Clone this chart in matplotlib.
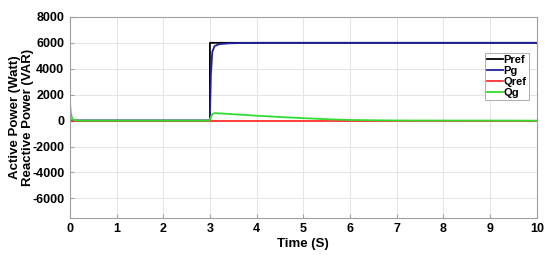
import matplotlib.pyplot as plt

plt.rcParams['font.family'] = ['Liberation Sans', 'DejaVu Sans']
plt.rcParams['font.weight'] = 'bold'
plt.rcParams['axes.unicode_minus'] = False

# values
t_pref = [0, 2.999, 3.0, 10]
pref = [0, 0, 6000, 6000]

t_pg = [0, 2.995, 3.0, 3.02, 3.05, 3.1, 3.2, 3.4, 3.7, 4.0, 5.0, 10]
pg = [0, 0, 200, 3500, 5300, 5750, 5900, 5960, 5990, 6000, 6000, 6000]

t_qref = [0, 10]
qref = [0, 0]

t_qg = [0, 0.02, 0.05, 0.1, 0.2, 2.995, 3.0, 3.05, 3.1, 3.3, 3.6, 4.0, 4.5, 5.0, 5.5, 6.0, 7.0, 10]
qg = [1500, 600, 150, 20, 0, 0, 100, 500, 580, 540, 470, 380, 280, 190, 110, 50, 10, 0]

fig = plt.figure(figsize=(5.5, 2.6), dpi=100)
ax = fig.add_axes([0.127, 0.162, 0.849, 0.773])

ax.plot(t_pref, pref, color='black', lw=1.3, label='Pref')
ax.plot(t_pg, pg, color='#2020a0', lw=1.3, label='Pg')
ax.plot(t_qref, qref, color='#ff3030', lw=1.3, label='Qref')
ax.plot(t_qg, qg, color='#30dd30', lw=1.3, label='Qg')

ax.set_xlim(0, 10)
ax.set_ylim(-7500, 8000)
ax.set_xticks(range(0, 11))
ax.set_yticks(range(-6000, 8001, 2000))
ax.grid(True, color='#e4e4e4', lw=0.7)
for s in ax.spines.values():
    s.set_color('#a0a0a0')
    s.set_linewidth(0.8)
ax.tick_params(labelsize=9, length=3, direction='in', color='#a0a0a0', pad=4)

ax.set_xlabel('Time (S)', fontsize=9.5, fontweight='bold', labelpad=2)
ax.set_ylabel('Active Power (Watt)\nReactive Power (VAR)', fontsize=9.5, fontweight='bold', linespacing=1.1)
ax.yaxis.set_label_coords(-0.077, 0.5)

leg = ax.legend(loc='upper right', bbox_to_anchor=(0.995, 0.85), fontsize=8, handlelength=1.4,
                handletextpad=0.1, borderpad=0.2, labelspacing=0.1, fancybox=False, framealpha=1)
leg.get_frame().set_edgecolor('#a0a0a0')
leg.get_frame().set_linewidth(0.6)

fig.savefig('out.png', dpi=100)
